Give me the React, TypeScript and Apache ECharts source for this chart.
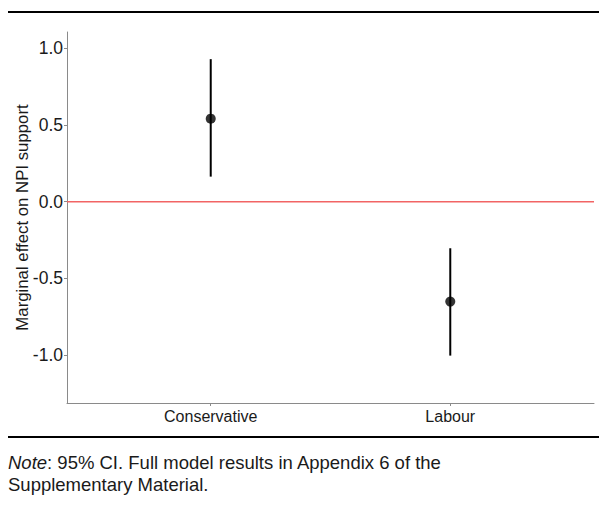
import React, { useEffect, useRef } from "react";
import * as echarts from "echarts";

const categories = ["Conservative", "Labour"];
const estimates = [0.541, -0.652];
const lowerCI = [0.163, -1.004];
const upperCI = [0.929, -0.304];
const yTicks = [-1, -0.5, 0, 0.5, 1];
const noteText = "95% CI. Full model results in Appendix 6 of the";
const noteText2 = "Supplementary Material.";

const FONT = "'Liberation Sans', Arial, Helvetica, sans-serif";

export default function App() {
  const ref = useRef<HTMLDivElement>(null);
  useEffect(() => {
    document.body.style.margin = "0";
    if (!ref.current) return;
    const chart = echarts.init(ref.current, null, { renderer: "svg" });
    const xs = categories.map((_, i) => i + 1);
    const option: any = {
      animation: false,
      textStyle: { fontFamily: FONT },
      grid: { left: 67, top: 32, width: 527, height: 371, containLabel: false },
      xAxis: {
        type: "value",
        min: 0.4,
        max: 2.6,
        splitLine: { show: false },
        axisLine: { show: true, onZero: false, lineStyle: { color: "#8a8a8a", width: 1 } },
        axisTick: { show: true, length: 3, customValues: xs, lineStyle: { color: "#8a8a8a" } },
        axisLabel: {
          customValues: xs,
          formatter: (v: number) => categories[Math.round(v) - 1] ?? "",
          color: "#1a1a1a",
          fontSize: 16,
          fontFamily: FONT,
          margin: 5,
        },
      },
      yAxis: {
        type: "value",
        min: -1.313,
        max: 1.106,
        splitLine: { show: false },
        name: "Marginal effect on NPI support",
        nameLocation: "middle",
        nameRotate: 90,
        nameGap: 36,
        nameMoveOverlap: false,
        nameTextStyle: { color: "#1a1a1a", fontSize: 16.8, fontFamily: FONT },
        axisLine: { show: true, onZero: false, lineStyle: { color: "#8a8a8a", width: 1 } },
        axisTick: { show: true, length: 3, customValues: yTicks, lineStyle: { color: "#8a8a8a" } },
        axisLabel: {
          customValues: yTicks,
          formatter: (v: number) => v.toFixed(1),
          color: "#1a1a1a",
          fontSize: 17.5,
          fontFamily: FONT,
          margin: 4,
        },
      },
      series: [
        {
          type: "line",
          data: [[0.4, 0], [2.6, 0]],
          symbol: "none",
          lineStyle: { color: "#F26464", width: 1.5 },
          silent: true,
          z: 1,
        },
        {
          type: "custom",
          data: xs.map((x, i) => [x, lowerCI[i], upperCI[i]]),
          renderItem: (params: any, api: any) => {
            const p1 = api.coord([api.value(0), api.value(1)]);
            const p2 = api.coord([api.value(0), api.value(2)]);
            return {
              type: "line",
              shape: { x1: p1[0], y1: p1[1], x2: p2[0], y2: p2[1] },
              style: { stroke: "#000", lineWidth: 2 },
            };
          },
          z: 2,
        },
        {
          type: "scatter",
          data: xs.map((x, i) => [x, estimates[i]]),
          symbol: "circle",
          symbolSize: 10,
          itemStyle: { color: "#000" },
          z: 3,
        },
      ],
      graphic: [
        {
          type: "line",
          shape: { x1: 8, y1: 12, x2: 599, y2: 12 },
          style: { stroke: "#000", lineWidth: 2 },
        },
        {
          type: "line",
          shape: { x1: 8, y1: 437, x2: 599, y2: 437 },
          style: { stroke: "#000", lineWidth: 2 },
        },
        {
          type: "text",
          x: 8,
          y: 451,
          style: {
            text: "{i|Note}: " + noteText + "\n" + noteText2,
            fill: "#1a1a1a",
            fontSize: 18.5,
            fontFamily: FONT,
            lineHeight: 22,
            rich: {
              i: { fontStyle: "italic", fontSize: 18.5, fontFamily: FONT, fill: "#1a1a1a" },
            },
          },
        },
      ],
    };
    chart.setOption(option);
    return () => chart.dispose();
  }, []);
  return <div ref={ref} style={{ width: 599, height: 508 }} />;
}
